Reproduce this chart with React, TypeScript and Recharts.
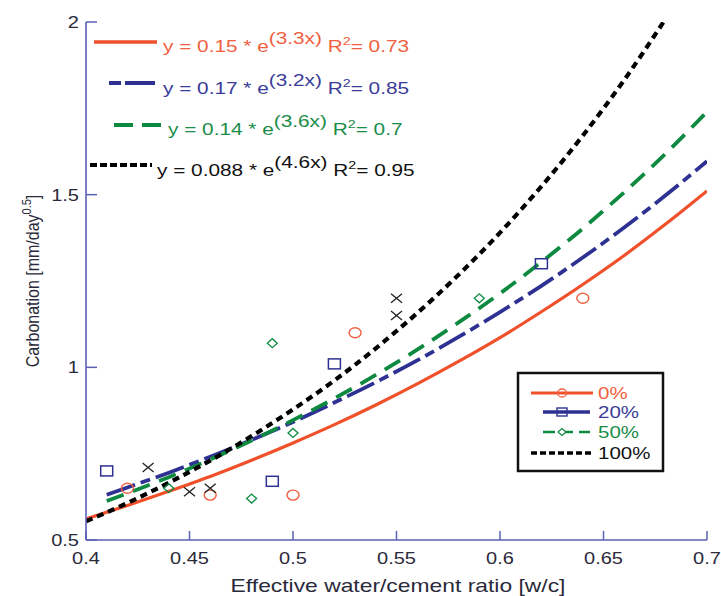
import React from 'react';
import { ComposedChart, Line, Scatter, XAxis, YAxis } from 'recharts';

// ---------- data ----------
const xTicks = [0.4, 0.45, 0.5, 0.55, 0.6, 0.65, 0.7];
const yTicks = [0.5, 1, 1.5, 2];

// fitted curves
const curve0X = [0.4, 0.42, 0.44, 0.46, 0.48, 0.5, 0.52, 0.54, 0.56, 0.58, 0.6, 0.62, 0.64, 0.66, 0.68, 0.7];
const curve0Y = [0.561, 0.6, 0.641, 0.684, 0.731, 0.781, 0.834, 0.891, 0.952, 1.017, 1.086, 1.161, 1.24, 1.324, 1.415, 1.511];
const curve20X = [0.41, 0.42, 0.44, 0.46, 0.48, 0.5, 0.52, 0.54, 0.56, 0.58, 0.6, 0.62, 0.64, 0.66, 0.68, 0.7];
const curve20Y = [0.631, 0.652, 0.695, 0.741, 0.79, 0.842, 0.898, 0.957, 1.02, 1.088, 1.16, 1.236, 1.318, 1.405, 1.498, 1.597];
const curve50X = [0.41, 0.42, 0.44, 0.46, 0.48, 0.5, 0.52, 0.54, 0.56, 0.58, 0.6, 0.62, 0.64, 0.66, 0.68, 0.7];
const curve50Y = [0.613, 0.635, 0.682, 0.733, 0.788, 0.847, 0.91, 0.978, 1.051, 1.13, 1.214, 1.305, 1.402, 1.507, 1.619, 1.74];
const curve100X = [0.4, 0.42, 0.44, 0.46, 0.48, 0.5, 0.52, 0.54, 0.56, 0.58, 0.6, 0.62, 0.64, 0.66, 0.68];
const curve100Y = [0.554, 0.607, 0.666, 0.73, 0.801, 0.878, 0.962, 1.055, 1.157, 1.268, 1.39, 1.524, 1.671, 1.832, 2.009];

// measured points
const pts0X = [0.42, 0.46, 0.5, 0.53, 0.64];
const pts0Y = [0.65, 0.63, 0.63, 1.1, 1.2];
const pts20X = [0.41, 0.49, 0.52, 0.62];
const pts20Y = [0.7, 0.67, 1.01, 1.3];
const pts50X = [0.44, 0.48, 0.49, 0.5, 0.59];
const pts50Y = [0.65, 0.62, 1.07, 0.81, 1.2];
const pts100X = [0.43, 0.45, 0.46, 0.55, 0.55];
const pts100Y = [0.71, 0.64, 0.65, 1.15, 1.2];

const seriesNames = ['0%', '20%', '50%', '100%'];
const equations = [
  { a: '0.15', b: '3.3x', r2: '0.73' },
  { a: '0.17', b: '3.2x', r2: '0.85' },
  { a: '0.14', b: '3.6x', r2: '0.7' },
  { a: '0.088', b: '4.6x', r2: '0.95' },
];

const zip = (xs: number[], ys: number[]) => xs.map((x, i) => ({ x, y: ys[i] }));

// ---------- styles ----------
const AX = '#5a60b4';
const RED = '#f0502a';
const BLUE = '#2e3192';
const GREEN = '#0e8a40';
const BLACK = '#000000';
const RED_T = '#f06040';
const BLUE_T = '#3a3c98';
const GREEN_T = '#1a8c48';
const BLACK_T = '#111111';
const FONT = '"Liberation Sans", Arial, sans-serif';
const SX = 1.25;

const BottomTick = (p: any) => {
  const { x, y, payload } = p;
  return (
    <g>
      <line x1={x} x2={x} y1={y} y2={y - 9} stroke={AX} strokeWidth={1.5} />
      <text
        transform={`translate(${x},${y + 24}) scale(${SX},1)`}
        textAnchor="middle"
        fontSize={16}
        fontFamily={FONT}
        fill="#2a2a3a"
      >
        {String(payload.value)}
      </text>
    </g>
  );
};
const TopTick = (p: any) => {
  const { x, y } = p;
  return <line x1={x} x2={x} y1={y} y2={y + 8} stroke={AX} strokeWidth={1.5} />;
};
const LeftTick = (p: any) => {
  const { x, y, payload } = p;
  return (
    <g>
      <line x1={x} x2={x + 11} y1={y} y2={y} stroke={AX} strokeWidth={1.5} />
      <text
        transform={`translate(${x - 7},${y + 6}) scale(${SX},1)`}
        textAnchor="end"
        fontSize={16}
        fontFamily={FONT}
        fill="#2a2a3a"
      >
        {String(payload.value)}
      </text>
    </g>
  );
};
const RightTick = (p: any) => {
  const { x, y } = p;
  return <line x1={x} x2={x - 11} y1={y} y2={y} stroke={AX} strokeWidth={1.5} />;
};

const circleShape = (p: any) => (
  <ellipse cx={p.cx} cy={p.cy} rx={6} ry={5} fill="none" stroke={RED_T} strokeWidth={1.4} />
);
const squareShape = (p: any) => (
  <rect x={p.cx - 6} y={p.cy - 5} width={12} height={10} fill="none" stroke={BLUE} strokeWidth={1.5} />
);
const diamondShape = (p: any) => (
  <polygon
    points={`${p.cx - 5},${p.cy} ${p.cx},${p.cy - 4.5} ${p.cx + 5},${p.cy} ${p.cx},${p.cy + 4.5}`}
    fill="none"
    stroke={GREEN}
    strokeWidth={1.3}
  />
);
const xShape = (p: any) => (
  <g stroke="#222" strokeWidth={1.3}>
    <line x1={p.cx - 5.5} y1={p.cy - 4.5} x2={p.cx + 5.5} y2={p.cy + 4.5} />
    <line x1={p.cx - 5.5} y1={p.cy + 4.5} x2={p.cx + 5.5} y2={p.cy - 4.5} />
  </g>
);

const Equation = ({ x, y, color, eq }: any) => (
  <text
    transform={`translate(${x},${y}) scale(1.3,1)`}
    fontSize={16}
    fontFamily={FONT}
    fill={color}
  >
    {`y = ${eq.a} * e`}
    <tspan dy={-8}>{`(${eq.b})`}</tspan>
    <tspan dy={8}>{'  R'}</tspan>
    <tspan dy={-7} fontSize={11}>2</tspan>
    <tspan dy={7}>{`= ${eq.r2}`}</tspan>
  </text>
);

const LegendText = ({ x, y, color, label }: any) => (
  <text transform={`translate(${x},${y}) scale(1.28,1)`} fontSize={16} fontFamily={FONT} fill={color}>
    {label}
  </text>
);

export default function App() {
  return (
    <div style={{ position: 'absolute', left: 0, top: 0, width: 721, height: 596, background: '#fff' }}>
      <ComposedChart
        width={721}
        height={596}
        margin={{ top: 22, right: 14, bottom: 0, left: 26 }}
      >
        <XAxis
          dataKey="x"
          type="number"
          domain={[0.4, 0.7]}
          ticks={xTicks}
          interval={0}
          allowDataOverflow
          height={56}
          tickSize={0}
          tickMargin={0}
          tickLine={false}
          axisLine={{ stroke: AX, strokeWidth: 1.6 }}
          tick={<BottomTick />}
        />
        <XAxis
          xAxisId="top"
          orientation="top"
          type="number"
          domain={[0.4, 0.7]}
          ticks={xTicks}
          interval={0}
          allowDataOverflow
          height={0}
          tickSize={0}
          tickMargin={0}
          tickLine={false}
          axisLine={{ stroke: AX, strokeWidth: 1.6 }}
          tick={<TopTick />}
        />
        <YAxis
          dataKey="y"
          type="number"
          domain={[0.5, 2]}
          ticks={yTicks}
          interval={0}
          allowDataOverflow
          width={60}
          tickSize={0}
          tickMargin={0}
          tickLine={false}
          axisLine={{ stroke: AX, strokeWidth: 1.6 }}
          tick={<LeftTick />}
        />
        <YAxis
          yAxisId="right"
          orientation="right"
          type="number"
          domain={[0.5, 2]}
          ticks={yTicks}
          interval={0}
          allowDataOverflow
          width={0}
          tickSize={0}
          tickMargin={0}
          tickLine={false}
          axisLine={{ stroke: AX, strokeWidth: 1.6 }}
          tick={<RightTick />}
        />

        <Scatter name={seriesNames[0]} data={zip(pts0X, pts0Y)} dataKey="y" shape={circleShape} isAnimationActive={false} />
        <Scatter name={seriesNames[1]} data={zip(pts20X, pts20Y)} dataKey="y" shape={squareShape} isAnimationActive={false} />
        <Scatter name={seriesNames[2]} data={zip(pts50X, pts50Y)} dataKey="y" shape={diamondShape} isAnimationActive={false} />
        <Scatter name={seriesNames[3]} data={zip(pts100X, pts100Y)} dataKey="y" shape={xShape} isAnimationActive={false} />

        <Line data={zip(curve0X, curve0Y)} dataKey="y" type="monotone" stroke={RED} strokeWidth={3.2} dot={false} isAnimationActive={false} />
        <Line data={zip(curve20X, curve20Y)} dataKey="y" type="monotone" stroke={BLUE} strokeWidth={3.8} strokeDasharray="30 6 10 6" dot={false} isAnimationActive={false} />
        <Line data={zip(curve50X, curve50Y)} dataKey="y" type="monotone" stroke={GREEN} strokeWidth={3.8} strokeDasharray="18 10" dot={false} isAnimationActive={false} />
        <Line data={zip(curve100X, curve100Y)} dataKey="y" type="monotone" stroke={BLACK} strokeWidth={4.2} strokeDasharray="7 5" dot={false} isAnimationActive={false} />
      </ComposedChart>

      <svg width={721} height={596} style={{ position: 'absolute', left: 0, top: 0, pointerEvents: 'none' }}>
        {/* equation legend */}
        <line x1={94} x2={157} y1={42} y2={42} stroke={RED} strokeWidth={3.5} />
        <Equation x={163} y={52} color={RED_T} eq={equations[0]} />
        <line x1={109} x2={155} y1={83} y2={83} stroke={BLUE} strokeWidth={3.8} strokeDasharray="12 4 30 6" />
        <Equation x={163} y={94} color={BLUE_T} eq={equations[1]} />
        <line x1={114} x2={162} y1={125} y2={125} stroke={GREEN} strokeWidth={3.8} strokeDasharray="19 9" />
        <Equation x={168} y={135} color={GREEN_T} eq={equations[2]} />
        <line x1={90} x2={152} y1={165} y2={165} stroke={BLACK} strokeWidth={4} strokeDasharray="7 3" />
        <Equation x={157} y={176} color={BLACK_T} eq={equations[3]} />

        {/* series legend box */}
        <rect x={518} y={373} width={145} height={98} fill="#fff" stroke="#111" strokeWidth={2.5} />
        <line x1={531} x2={593} y1={393} y2={393} stroke={RED} strokeWidth={3} />
        <ellipse cx={562} cy={393} rx={4.5} ry={4} fill="none" stroke={RED_T} strokeWidth={1.3} />
        <LegendText x={598} y={399} color={RED_T} label={seriesNames[0]} />

        <line x1={543} x2={590} y1={412} y2={412} stroke={BLUE} strokeWidth={3.5} />
        <rect x={557} y={408} width={10} height={8} fill="none" stroke={BLUE} strokeWidth={1.4} />
        <LegendText x={598} y={418} color={BLUE_T} label={seriesNames[1]} />

        <line x1={543} x2={590} y1={432} y2={432} stroke={GREEN} strokeWidth={2.5} strokeDasharray="12 6" />
        <polygon points="558,432 562,428.5 566,432 562,435.5" fill="#fff" stroke={GREEN} strokeWidth={1.2} />
        <LegendText x={598} y={438} color={GREEN_T} label={seriesNames[2]} />

        <line x1={531} x2={594} y1={453} y2={453} stroke={BLACK} strokeWidth={3.5} strokeDasharray="6 3" />
        <LegendText x={598} y={459} color={BLACK_T} label={seriesNames[3]} />

        {/* axis titles */}
        <text
          transform={`translate(398,592) scale(1.27,1)`}
          textAnchor="middle"
          fontSize={18}
          fontFamily={FONT}
          fill="#2a2a3a"
        >
          Effective water/cement ratio [w/c]
        </text>
        <text
          transform={`translate(39,281) rotate(-90) scale(1,1.2)`}
          textAnchor="middle"
          fontSize={16}
          fontFamily={FONT}
          fill="#2a2a3a"
        >
          Carbonation [mm/day
          <tspan dy={-7} fontSize={11}>0.5</tspan>
          <tspan dy={7}>]</tspan>
        </text>
      </svg>
    </div>
  );
}
